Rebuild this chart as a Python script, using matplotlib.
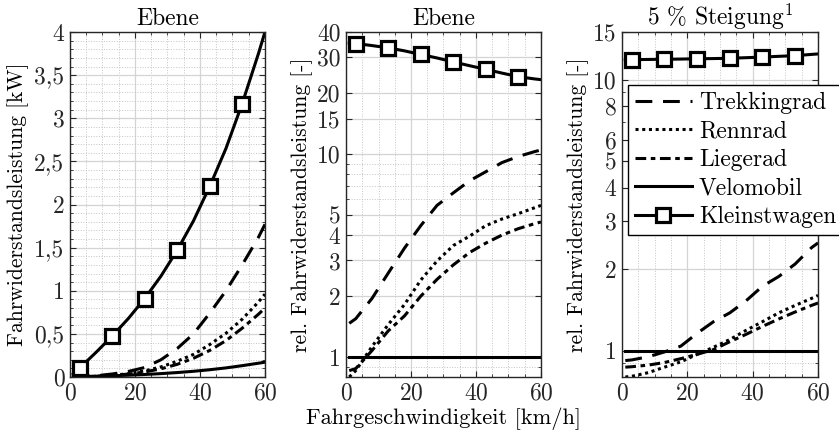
import numpy as np
import matplotlib
matplotlib.use('Agg')
import matplotlib.pyplot as plt
from matplotlib.ticker import FixedLocator, FixedFormatter, FuncFormatter, NullFormatter

plt.rcParams['font.family'] = 'serif'
plt.rcParams['font.serif'] = ['cmr10']
plt.rcParams['mathtext.fontset'] = 'cm'
plt.rcParams['axes.formatter.use_mathtext'] = True

# Geschwindigkeit [km/h]
v = [1, 3, 8, 13, 18, 23, 28, 33, 38, 43, 48, 53, 58, 60]
marker_idx = [1, 3, 5, 7, 9, 11]

# absolute Fahrwiderstandsleistung Ebene [kW]
abs_trekking = [0.0014, 0.004, 0.015, 0.035, 0.065, 0.11, 0.2, 0.33, 0.5, 0.74, 1.0, 1.3, 1.62, 1.77]
abs_rennrad = [0.0008, 0.0026, 0.0094, 0.0206, 0.038, 0.071, 0.117, 0.183, 0.262, 0.376, 0.507, 0.67, 0.87, 0.96]
abs_liegerad = [0.00085, 0.0026, 0.009, 0.019, 0.034, 0.059, 0.095, 0.147, 0.217, 0.308, 0.422, 0.566, 0.728, 0.80]
abs_velomobil = [0.001, 0.003, 0.0083, 0.0142, 0.021, 0.0294, 0.0393, 0.0516, 0.0663, 0.0844, 0.1056, 0.1315, 0.16, 0.172]
abs_klein = [0.035, 0.105, 0.285, 0.475, 0.68, 0.91, 1.17, 1.47, 1.81, 2.21, 2.65, 3.17, 3.75, 4.0]

# relativ zum Velomobil, Ebene [-]
rel_trekking = [1.47, 1.55, 1.95, 2.6, 3.45, 4.45, 5.6, 6.45, 7.4, 8.2, 9.1, 9.75, 10.3, 10.5]
rel_rennrad = [0.8, 0.86, 1.13, 1.45, 1.82, 2.4, 2.98, 3.55, 3.95, 4.45, 4.8, 5.1, 5.45, 5.6]
rel_liegerad = [0.86, 0.88, 1.08, 1.35, 1.6, 2.0, 2.42, 2.85, 3.28, 3.65, 4.0, 4.3, 4.55, 4.64]
rel_velomobil = [1] * len(v)
rel_klein = [35.3, 35.1, 34.3, 33.4, 32.3, 31.0, 29.8, 28.5, 27.3, 26.2, 25.1, 24.1, 23.5, 23.3]

# relativ zum Velomobil, 5 % Steigung [-]
st_trekking = [0.92, 0.925, 0.95, 0.99, 1.04, 1.16, 1.28, 1.38, 1.53, 1.73, 1.88, 2.09, 2.4, 2.5]
st_rennrad = [0.80, 0.805, 0.83, 0.87, 0.91, 0.97, 1.03, 1.1, 1.19, 1.28, 1.38, 1.47, 1.56, 1.6]
st_liegerad = [0.87, 0.873, 0.885, 0.905, 0.935, 0.97, 1.01, 1.08, 1.15, 1.23, 1.31, 1.39, 1.47, 1.5]
st_velomobil = [1] * len(v)
st_klein = [11.85, 11.86, 11.88, 11.9, 11.92, 11.95, 11.97, 12.0, 12.06, 12.12, 12.2, 12.27, 12.4, 12.45]

labels = ['Trekkingrad', 'Rennrad', 'Liegerad', 'Velomobil', 'Kleinstwagen']
lw = 2.2
styles = [
    dict(dashes=(5.5, 3.5)),
    dict(dashes=(1, 1.2)),
    dict(dashes=(3.5, 1.5, 1.5, 1.5)),
    dict(ls='-'),
    dict(ls='-', marker='s', ms=10.5, mew=2.3, mfc='white', mec='black', markevery=marker_idx),
]

fig = plt.figure(figsize=(8.39, 4.36), dpi=100)
ax1 = fig.add_axes([0.0834, 0.1353, 0.2324, 0.7913])
ax2 = fig.add_axes([0.4124, 0.1353, 0.2324, 0.7913])
ax3 = fig.add_axes([0.7414, 0.1353, 0.2336, 0.7913])

def draw(ax, series):
    lines = []
    for ys, st, lab in zip(series, styles, labels):
        ln, = ax.plot(v, ys, color='black', lw=lw, label=lab, **st)
        lines.append(ln)
    return lines

draw(ax1, [abs_trekking, abs_rennrad, abs_liegerad, abs_velomobil, abs_klein])
draw(ax2, [rel_trekking, rel_rennrad, rel_liegerad, rel_velomobil, rel_klein])
lines3 = draw(ax3, [st_trekking, st_rennrad, st_liegerad, st_velomobil, st_klein])

fs = 17
fl = 15.5
for ax in (ax1, ax2, ax3):
    ax.set_xlim(0, 60)
    ax.set_xticks([0, 20, 40, 60])
    ax.xaxis.set_minor_locator(FixedLocator(np.arange(5, 60, 5)))
    ax.grid(True, which='major', color='#d4d4d4', lw=0.9, ls='-')
    ax.grid(True, which='minor', color='#c4c4c4', lw=0.7, ls=':')
    ax.set_axisbelow(True)
    ax.tick_params(which='both', direction='in', top=True, right=True,
                   color='#262626', labelsize=fs, labelcolor='#262626', pad=4)
    ax.tick_params(which='major', length=4, width=0.8)
    ax.tick_params(which='minor', length=2, width=0.6)
    for s in ax.spines.values():
        s.set_color('#262626')
        s.set_linewidth(1.0)

# Achse 1: absolut
ax1.set_ylim(0, 4)
ax1.set_yticks(np.arange(0, 4.01, 0.5))
ax1.yaxis.set_minor_locator(FixedLocator(np.arange(0.1, 4, 0.1)))
ax1.yaxis.set_major_formatter(FuncFormatter(lambda y, p: ('%g' % y).replace('.', ',')))
ax1.set_ylabel('Fahrwiderstandsleistung [kW]', fontsize=fl, labelpad=4)
ax1.set_title('Ebene', fontsize=fs, pad=5)

# Achse 2: relativ Ebene
ax2.set_yscale('log')
ax2.set_ylim(0.8, 40)
t2 = [1, 2, 3, 4, 5, 10, 15, 20, 30, 40]
ax2.yaxis.set_major_locator(FixedLocator(t2))
ax2.yaxis.set_major_formatter(FixedFormatter([str(t) for t in t2]))
ax2.yaxis.set_minor_locator(FixedLocator([0.9, 6, 7, 8, 9]))
ax2.yaxis.set_minor_formatter(NullFormatter())
ax2.set_ylabel('rel. Fahrwiderstandsleistung [-]', fontsize=fl, labelpad=3)
ax2.set_xlabel('Fahrgeschwindigkeit [km/h]', fontsize=16.2, labelpad=2)
ax2.set_title('Ebene', fontsize=fs, pad=5)

# Achse 3: relativ Steigung
ax3.set_yscale('log')
ax3.set_ylim(0.8, 15)
t3 = [1, 2, 3, 4, 5, 6, 8, 10, 15]
ax3.yaxis.set_major_locator(FixedLocator(t3))
ax3.yaxis.set_major_formatter(FixedFormatter([str(t) for t in t3]))
ax3.yaxis.set_minor_locator(FixedLocator([0.9, 7, 9]))
ax3.yaxis.set_minor_formatter(NullFormatter())
ax3.set_ylabel('rel. Fahrwiderstandsleistung [-]', fontsize=fl, labelpad=3)
ax3.set_title('5 % Steigung$^1$', fontsize=fs, pad=5)

leg = ax3.legend(handles=lines3, loc='upper left', bbox_to_anchor=(628 / 839, 1 - 85 / 436),
                 bbox_transform=fig.transFigure, fontsize=fs, frameon=True, fancybox=False,
                 edgecolor='black', framealpha=1, borderpad=0.3, labelspacing=0.27,
                 handlelength=2.4, handletextpad=0.3, borderaxespad=0)
leg.get_frame().set_linewidth(1.0)

fig.savefig('out.png', dpi=100)
